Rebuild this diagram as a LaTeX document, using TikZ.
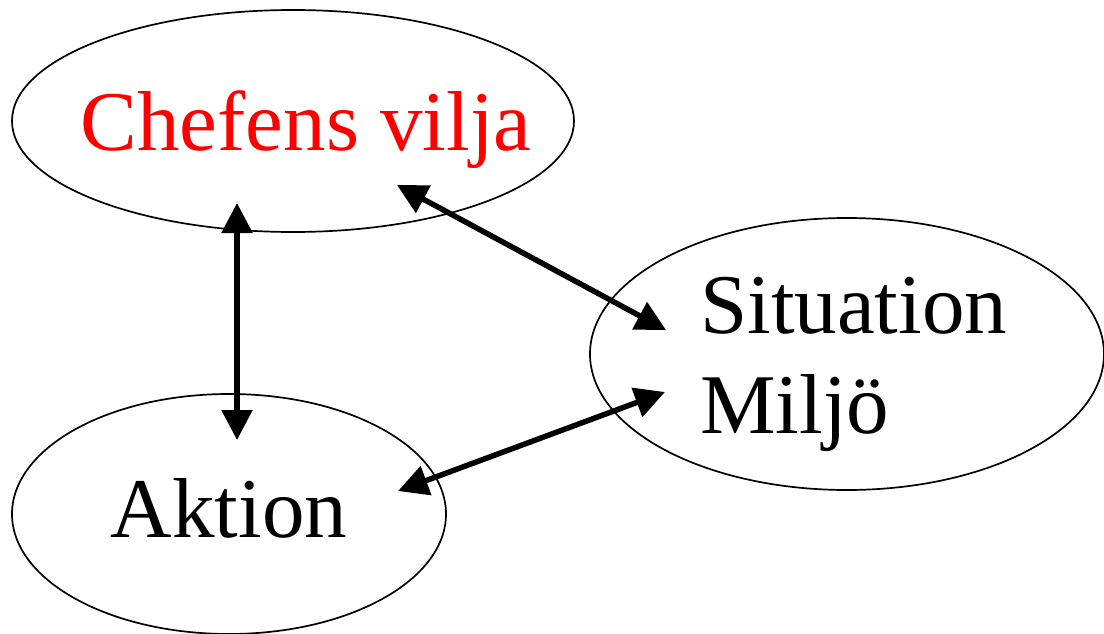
\documentclass[tikz,border=0pt]{standalone}
\usepackage{fontspec}
\setmainfont{Liberation Serif}
\usetikzlibrary{positioning,arrows.meta}
\usepgflibrary{shapes.geometric}
\tikzset{%
area/.style={draw,ellipse,line width=1.7pt,inner sep=0,minimum width=2*#1},
bigtext/.style={font=\fontsize{85}{96}\selectfont,inner sep=0},
link/.style={line width=5.5pt,{Triangle[length=30pt,width=30pt]}-{Triangle[length=30pt,width=30pt]}}
}

\begin{document}
\begin{tikzpicture}[x=1pt,y=-1pt]

    \useasboundingbox (0,0) rectangle (1104,634);

    \node[area=281,minimum height=222pt] (chef) at (293,121) {};
    \node[area=257,minimum height=272pt] (sit) at (847,354) {};
    \node[area=217,minimum height=240pt] (akt) at (229,514) {};

    \node[bigtext,text=red,anchor=base] (chefl) at (306,150) {Chefens vilja};
    \node[bigtext,anchor=base west] (sitl) at (700,333) {Situation};
    \node[bigtext,anchor=base west] (milj) at (700,433) {Milj\"o};
    \node[bigtext,anchor=base] (aktl) at (229,537) {Aktion};

    \coordinate (c1) at (237,203);
    \coordinate (a1) at (237,440);
    \coordinate (c2) at (397,185);
    \coordinate (s1) at (666,330);
    \coordinate (a2) at (398,491);
    \coordinate (s2) at (665,392);

    \draw[link] (c1) -- (a1);
    \draw[link] (c2) -- (s1);
    \draw[link] (a2) -- (s2);

  \end{tikzpicture}
\end{document}
